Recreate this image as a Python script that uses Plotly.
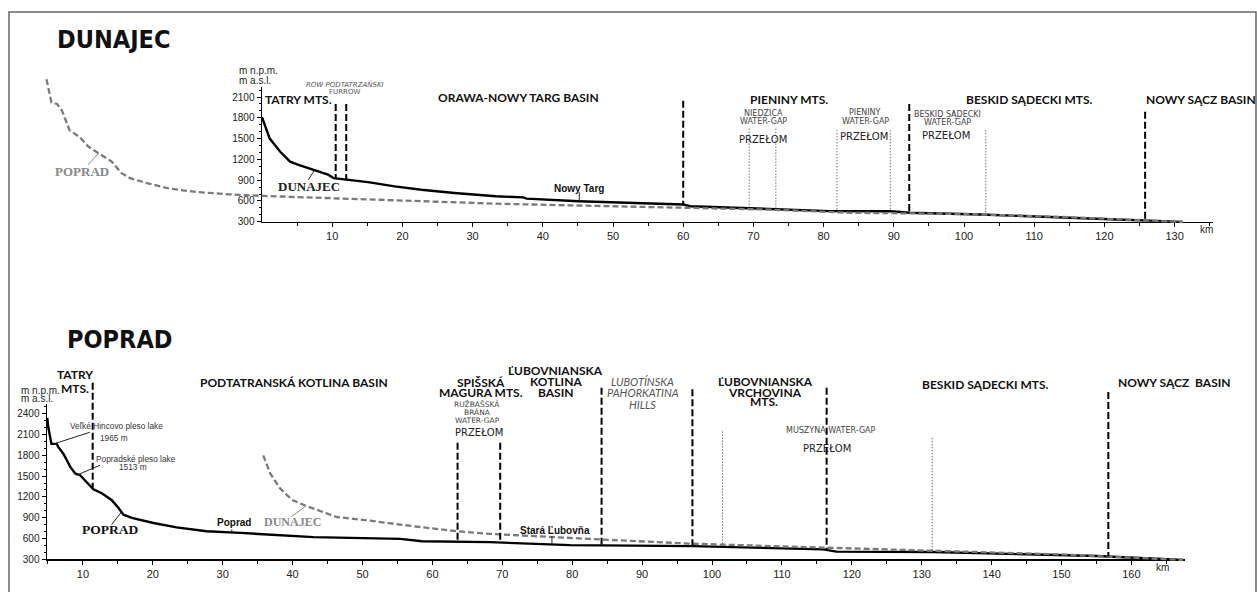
import numpy as np
import plotly.graph_objects as go

W, H = 1257, 592

# Dunajec longitudinal profile: distance from source (km), elevation (m a.s.l.)
dunajec_km = [0.0, 1.1, 2.6, 4.0, 5.2, 6.6, 7.8, 9.5, 10.2, 11.4, 15.1, 18.9, 22.7, 27.4,
              33.3, 37.2, 37.7, 45.1, 52.9, 60.0, 61.0, 69.5, 80.9, 89.5, 92.3, 102.3, 120.3, 131.2]
dunajec_m = [1810, 1500, 1310, 1167, 1119, 1071, 1024, 976, 929, 914, 871, 810, 761, 714,
             667, 652, 633, 596, 571, 548, 524, 490, 453, 452, 429, 405, 333, 296]

# Poprad profile laid on the Dunajec distance scale (mouths aligned at Nowy Sącz)
poprad_vs_dunajec_km = [-30.7, -30.0, -29.2, -28.5, -27.4, -26.0, -24.7, -23.3, -21.4, -20.0,
                        -18.8, -16.4, -13.1, -9.3, -4.6, 0.2, 10.0, 19.7, 33.2, 42.5, 60.0,
                        72.0, 83.8, 100.0, 115.0, 131.2]
poprad_vs_dunajec_m = [2357, 2024, 2000, 1904, 1619, 1524, 1381, 1286, 1167, 1000,
                       929, 857, 776, 729, 695, 672, 638, 604, 561, 539, 500,
                       476, 429, 412, 365, 296]

# Poprad longitudinal profile
poprad_km = [4.9, 5.05, 5.5, 6.25, 6.5, 7.2, 8.2, 8.9, 9.6, 10.5, 11.5, 12.7, 14.1, 15.1, 15.8,
             17.0, 20.1, 23.4, 27.7, 32.5, 38.2, 43.0, 55.4, 58.5, 68.2, 79.7, 97.3, 115.9,
             117.8, 131.7, 155.0, 167.4]
poprad_m = [2340, 2204, 1965, 1965, 1919, 1824, 1633, 1539, 1513, 1419, 1310, 1253, 1157, 1039,
            943, 896, 824, 761, 704, 681, 647, 619, 595, 561, 547, 504, 490, 443, 410, 404, 347, 290]

# Dunajec profile laid on the Poprad distance scale
dunajec_vs_poprad_km = [35.8, 36.8, 38.2, 39.9, 41.8, 44.9, 46.3, 51.1, 55.4, 63.5, 68.2, 84.0,
                        97.3, 116.4, 132.6, 150.0, 167.4]
dunajec_vs_poprad_m = [1800, 1539, 1324, 1157, 1076, 957, 910, 857, 800, 704, 667, 586,
                       524, 467, 419, 370, 290]

# axis ticks
top_x_ticks = [10, 20, 30, 40, 50, 60, 70, 80, 90, 100, 110, 120, 130]
top_y_ticks = [300, 600, 900, 1200, 1500, 1800, 2100]
bottom_x_ticks = [10, 20, 30, 40, 50, 60, 70, 80, 90, 100, 110, 120, 130, 140, 150, 160]
bottom_y_ticks = [300, 600, 900, 1200, 1500, 1800, 2100, 2400]

# region boundaries (dashed) and water-gap limits (dotted): km, upper end (m)
top_borders_km = [10.5, 12.0, 60.0, 92.2, 125.8]
top_borders_top_m = [2000, 2000, 2047, 2000, 1886]
top_gaps_km = [69.4, 73.2, 81.9, 89.5, 103.1]
top_gaps_top_m = [1643, 1643, 1619, 1619, 1619]
bottom_borders_km = [11.4, 63.6, 69.7, 84.2, 97.2, 116.4, 156.7]
bottom_borders_top_m = [2847, 1981, 1981, 2776, 2753, 2776, 2714]
bottom_gaps_km = [101.5, 131.5]
bottom_gaps_top_m = [2143, 2047]

# ---------------------------------------------------------------- fonts
GEO = "Lato, 'Open Sans', sans-serif"
ARIAL = "'Liberation Sans', Arial, sans-serif"
SERIF = "'Liberation Serif', 'Times New Roman', serif"
SMALL = "'DejaVu Sans', sans-serif"
TITLE = "'DejaVu Sans Condensed', 'DejaVu Sans', sans-serif"

# ---------------------------------------------------------------- panel geometry (pixels)
# x0: pixel of km 0, kmpx: pixels per km, y300: pixel row of 300 m, mpx: pixels per metre
TOP = dict(x0=262, kmpx=7.02, y300=224, mpx=0.07, left=262, right=1213, top=88)
BOT = dict(x0=13, kmpx=6.99, y300=565, mpx=0.07, left=47, right=1185, top=408)


def panel(p):
    xr = [(p["left"] - p["x0"]) / p["kmpx"], (p["right"] - p["x0"]) / p["kmpx"]]
    yr = [300, 300 + (p["y300"] - p["top"]) / p["mpx"]]
    xd = [p["left"] / W, p["right"] / W]
    yd = [1 - p["y300"] / H, 1 - p["top"] / H]
    # full-canvas overlay axes sharing the same km / m scale
    oxr = [-p["x0"] / p["kmpx"], (W - p["x0"]) / p["kmpx"]]
    oyr = [300 - (H - p["y300"]) / p["mpx"], 300 + p["y300"] / p["mpx"]]
    return xr, yr, xd, yd, oxr, oyr


def main_axes(xr, yr, xd, yd, xt, yt, anchor_x, anchor_y):
    xa = dict(domain=xd, range=xr, anchor=anchor_y, showline=True, linecolor="black",
              linewidth=1.5, ticks="outside", ticklen=4, tickcolor="black", tickvals=xt,
              tickfont=dict(family=ARIAL, size=11, color="#222"), showgrid=False,
              zeroline=False, fixedrange=True,
              minor=dict(tickvals=[v - 5 for v in xt] + [xt[-1] + 5], ticks="outside",
                         ticklen=3, tickcolor="black"))
    ya = dict(domain=yd, range=yr, anchor=anchor_x, showline=True, linecolor="black",
              linewidth=1.5, ticks="outside", ticklen=4, tickcolor="black", tickvals=yt,
              tickfont=dict(family=ARIAL, size=10, color="#222"), showgrid=False,
              zeroline=False, fixedrange=True,
              minor=dict(dtick=100, tick0=0, ticks="outside", ticklen=2, tickcolor="black"))
    return xa, ya


def overlay_axes(oxr, oyr, anchor_x, anchor_y):
    xa = dict(domain=[0, 1], range=oxr, anchor=anchor_y, visible=False, fixedrange=True)
    ya = dict(domain=[0, 1], range=oyr, anchor=anchor_x, visible=False, fixedrange=True)
    return xa, ya


t_xr, t_yr, t_xd, t_yd, t_oxr, t_oyr = panel(TOP)
b_xr, b_yr, b_xd, b_yd, b_oxr, b_oyr = panel(BOT)

xa1, ya1 = main_axes(t_xr, t_yr, t_xd, t_yd, top_x_ticks, top_y_ticks, "x", "y")
xa2, ya2 = main_axes(b_xr, b_yr, b_xd, b_yd, bottom_x_ticks, bottom_y_ticks, "x2", "y2")
xa3, ya3 = overlay_axes(t_oxr, t_oyr, "x3", "y3")
xa4, ya4 = overlay_axes(b_oxr, b_oyr, "x4", "y4")

fig = go.Figure()

RIVER = dict(color="black", width=2.4)
OTHER = dict(color="#7a7a7a", width=2.3, dash="6px,3px")

fig.add_trace(go.Scatter(x=dunajec_km, y=dunajec_m, xaxis="x", yaxis="y", mode="lines",
                         line=RIVER, hoverinfo="skip"))
fig.add_trace(go.Scatter(x=poprad_km, y=poprad_m, xaxis="x2", yaxis="y2", mode="lines",
                         line=RIVER, hoverinfo="skip"))
fig.add_trace(go.Scatter(x=poprad_vs_dunajec_km, y=poprad_vs_dunajec_m, xaxis="x3", yaxis="y3",
                         mode="lines", line=OTHER, hoverinfo="skip"))
fig.add_trace(go.Scatter(x=dunajec_vs_poprad_km, y=dunajec_vs_poprad_m, xaxis="x4", yaxis="y4",
                         mode="lines", line=OTHER, hoverinfo="skip"))

shapes = []
annotations = []


def vline(ref, km, m_top, m_bottom, kind):
    if kind == "border":
        line = dict(color="black", width=2, dash="7px,3px")
    else:
        line = dict(color="#333", width=1, dash="1px,2px")
    shapes.append(dict(type="line", xref="x" + ref, yref="y" + ref, x0=km, x1=km,
                       y0=m_top, y1=m_bottom, line=line))


def leader(ref, km0, m0, km1, m1, color="#222"):
    shapes.append(dict(type="line", xref="x" + ref, yref="y" + ref, x0=km0, y0=m0,
                       x1=km1, y1=m1, line=dict(color=color, width=1)))


def note(ref, km, m, text, size, family, color="#111", xanchor="center"):
    annotations.append(dict(xref="x" + ref, yref="y" + ref, x=km, y=m, text=text,
                            showarrow=False, xanchor=xanchor, yanchor="middle",
                            borderpad=0, font=dict(family=family, size=size, color=color)))


# boundary lines reach down to the river profile
for km, mt in zip(top_borders_km, top_borders_top_m):
    vline("3", km, mt, float(np.interp(km, dunajec_km, dunajec_m)), "border")
for km, mt in zip(top_gaps_km, top_gaps_top_m):
    vline("3", km, mt, float(np.interp(km, dunajec_km, dunajec_m)), "gap")
for km, mt in zip(bottom_borders_km, bottom_borders_top_m):
    vline("4", km, mt, float(np.interp(km, poprad_km, poprad_m)), "border")
for km, mt in zip(bottom_gaps_km, bottom_gaps_top_m):
    vline("4", km, mt, float(np.interp(km, poprad_km, poprad_m)), "gap")

# ---------------------------------------------------------------- Dunajec panel labels
R = 12
note("3", 5.13, 2071, "<b>TATRY MTS.</b>", R, GEO)
note("3", 11.8, 2286, "<i>ROW PODTATRZAŃSKI</i>", 7, SMALL, "#555")
note("3", 11.8, 2171, "FURROW", 7, SMALL, "#555")
note("3", 36.6, 2096, "<b>ORAWA-NOWY TARG BASIN</b>", R, GEO)
note("3", 75.1, 2071, "<b>PIENINY MTS.</b>", R, GEO)
note("3", 71.4, 1857, "NIEDZICA", 8, SMALL, "#444")
note("3", 71.4, 1747, "WATER-GAP", 8, SMALL, "#444")
note("3", 71.4, 1490, "PRZEŁOM", 10, SMALL, "#222")
note("3", 85.9, 1871, "PIENINY", 8, SMALL, "#444")
note("3", 85.9, 1743, "WATER-GAP", 8, SMALL, "#444")
note("3", 85.8, 1524, "PRZEŁOM", 10, SMALL, "#222")
note("3", 97.7, 1843, "BESKID SĄDECKI", 8, SMALL, "#444")
note("3", 97.7, 1729, "WATER-GAP", 8, SMALL, "#444")
note("3", 97.4, 1539, "PRZEŁOM", 10, SMALL, "#222")
note("3", 109.4, 2071, "<b>BESKID SĄDECKI MTS.</b>", R, GEO)
note("3", 133.8, 2071, "<b>NOWY SĄCZ BASIN</b>", R, GEO)
note("3", 45.2, 776, "<b>Nowy Targ</b>", 10, ARIAL)
leader("3", 45.2, 724, 45.2, float(np.interp(45.2, dunajec_km, dunajec_m)))
note("3", 6.7, 810, "<b>DUNAJEC</b>", 13, SERIF, "#222")
leader("3", 6.6, 904, 7.4, 1035)
note("3", -25.6, 1024, "<b>POPRAD</b>", 13, SERIF, "#888")
leader("3", -24.8, 1119, -23.3, 1286, "#888")
note("3", -3.4, 2486, "m n.p.m.", 10, ARIAL, "#222", "left")
note("3", -3.4, 2343, "m a.s.l.", 10, ARIAL, "#222", "left")
note("3", 134.6, 186, "km", 10, ARIAL, "#222")

# ---------------------------------------------------------------- Poprad panel labels
note("4", 8.87, 2971, "<b>TATRY</b>", R, GEO)
note("4", 8.87, 2771, "<b>MTS.</b>", R, GEO)
note("4", 1.0, 2739, "m n.p.m.", 10, ARIAL, "#222", "left")
note("4", 1.0, 2624, "m a.s.l.", 10, ARIAL, "#222", "left")
note("4", 40.2, 2847, "<b>PODTATRANSKÁ KOTLINA BASIN</b>", R, GEO)
note("4", 14.8, 2219, "Veľké Hincovo pleso lake", 8.3, ARIAL, "#333")
note("4", 14.4, 2057, "1965 m", 8.3, ARIAL, "#333")
leader("4", 6.15, 1975, 11.0, 2133)
note("4", 17.6, 1743, "Popradské pleso lake", 8.3, ARIAL, "#333")
note("4", 17.1, 1633, "1513 m", 8.3, ARIAL, "#333")
leader("4", 9.1, 1513, 12.45, 1657)
note("4", 13.9, 729, "<b>POPRAD</b>", 13.5, SERIF, "#111")
leader("4", 14.1, 800, 15.55, 985)
note("4", 31.6, 824, "<b>Poprad</b>", 10, ARIAL)
leader("4", 31.3, 729, 31.3, float(np.interp(31.3, poprad_km, poprad_m)))
note("4", 40.0, 839, "<b>DUNAJEC</b>", 12, SERIF, "#888")
leader("4", 39.9, 919, 41.8, 1061, "#888")
note("4", 66.95, 2847, "<b>SPIŠSKÁ</b>", R, GEO)
note("4", 66.95, 2714, "<b>MAGURA MTS.</b>", R, GEO)
note("4", 77.65, 3029, "<b>ĽUBOVNIANSKA</b>", R, GEO)
note("4", 77.65, 2871, "<b>KOTLINA</b>", R, GEO)
note("4", 77.65, 2714, "<b>BASIN</b>", R, GEO)
note("4", 90.1, 2871, "<i>LUBOTÍNSKA</i>", 11, GEO, "#555")
note("4", 90.1, 2704, "<i>PAHORKATINA</i>", 11, GEO, "#555")
note("4", 90.1, 2539, "<i>HILLS</i>", 11, GEO, "#555")
note("4", 66.4, 2539, "RUŽBAŠSKÁ", 7.5, SMALL, "#444")
note("4", 66.4, 2419, "BRÁNA", 7.5, SMALL, "#444")
note("4", 66.4, 2300, "WATER-GAP", 7.5, SMALL, "#444")
note("4", 66.7, 2124, "PRZEŁOM", 10, SMALL, "#222")
note("4", 77.6, 719, "<b>Stará Ľubovňa</b>", 10, ARIAL)
leader("4", 77.1, 633, 77.1, float(np.interp(77.1, poprad_km, poprad_m)))
note("4", 107.6, 2871, "<b>ĽUBOVNIANSKA</b>", R, GEO)
note("4", 107.6, 2714, "<b>VRCHOVINA</b>", R, GEO)
note("4", 107.4, 2571, "<b>MTS.</b>", R, GEO)
note("4", 117.0, 2157, "MUSZYNA WATER-GAP", 8, SMALL, "#444")
note("4", 116.5, 1896, "PRZEŁOM", 10, SMALL, "#222")
note("4", 139.1, 2824, "<b>BESKID SĄDECKI MTS.</b>", R, GEO)
note("4", 166.2, 2847, "<b>NOWY SĄCZ&nbsp; BASIN</b>", R, GEO)
note("4", 164.5, 186, "km", 10, ARIAL, "#222")

# panel titles
for label, px, py in [("DUNAJEC", 55, 40), ("POPRAD", 65, 343)]:
    annotations.append(dict(xref="paper", yref="paper", x=px / W, y=1 - py / H,
                            text="<b>" + label + "</b>", showarrow=False, xanchor="left",
                            yanchor="middle", font=dict(family=TITLE, size=25, color="#111")))

# frame
shapes.append(dict(type="rect", xref="paper", yref="paper", x0=9 / W, x1=1256 / W,
                   y0=-0.05, y1=1 - 12 / H, line=dict(color="#666", width=1.5), layer="below"))

fig.update_layout(
    width=W, height=H, autosize=False,
    margin=dict(l=0, r=0, t=0, b=0, pad=0),
    paper_bgcolor="white", plot_bgcolor="rgba(0,0,0,0)",
    showlegend=False,
    xaxis=xa1, yaxis=ya1, xaxis2=xa2, yaxis2=ya2,
    xaxis3=xa3, yaxis3=ya3, xaxis4=xa4, yaxis4=ya4,
    shapes=shapes, annotations=annotations,
)

fig.write_html("out.html", config={"displayModeBar": False, "staticPlot": True})
